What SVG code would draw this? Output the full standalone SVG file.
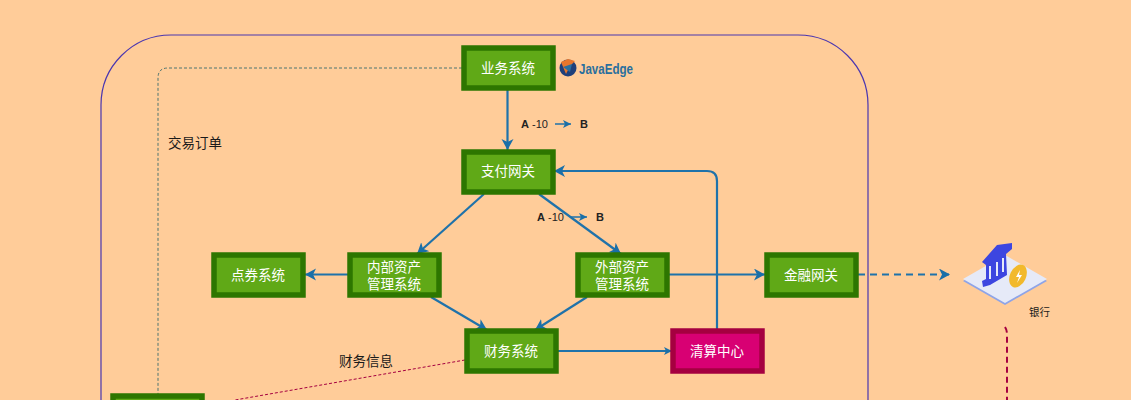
<svg xmlns="http://www.w3.org/2000/svg" width="1131" height="400" viewBox="0 0 1131 400">
<style>
text{font-family:"Liberation Sans","Noto Sans CJK SC",sans-serif}
.g{fill:#60a917;stroke:#2d7600;stroke-width:5.5}
.r{fill:#d80073;stroke:#a50040;stroke-width:5.5}
.t{fill:#fff;font-size:13.5px;text-anchor:middle}
.l{fill:#1a1a1a;font-size:13.5px}
.c{fill:none;stroke:#1f72aa;stroke-width:2.200}
.s{font-size:11px;fill:#222}
</style>
<defs>
<marker id="a" markerUnits="userSpaceOnUse" markerWidth="14" markerHeight="14" refX="11" refY="6" orient="auto"><path d="M0 0L11 6L0 12L3 6Z" fill="#1a6fa8"/></marker>
<marker id="b" markerUnits="userSpaceOnUse" markerWidth="10" markerHeight="10" refX="8" refY="4" orient="auto"><path d="M0 0L8 4L0 8L2 4Z" fill="#1a6fa8"/></marker>
</defs>
<rect width="1131" height="400" fill="#ffcc99"/>
<rect x="101" y="35" width="767" height="500" rx="70" fill="none" stroke="#4a36b0" stroke-width="1.200"/>
<g id="connectors">
<path d="M462 68H168Q158 68 158 78V394" fill="none" stroke="#4f7570" stroke-width="1" stroke-dasharray="3 2"/>
<path d="M465 360L235 400" fill="none" stroke="#a50040" stroke-width="1" stroke-dasharray="3 2"/>
<path class="c" d="M507.500 90V150" marker-end="url(#a)"/>
<path class="c" d="M717 330V181Q717 171 707 171H554" marker-end="url(#a)"/>
<path class="c" d="M484 194L417 254" marker-end="url(#a)"/>
<path class="c" d="M539 194L621 254" marker-end="url(#a)"/>
<path class="c" d="M348 274.500H305" marker-end="url(#a)"/>
<path class="c" d="M431 297L487 330" marker-end="url(#a)"/>
<path class="c" d="M587 297L535 330" marker-end="url(#a)"/>
<path class="c" d="M669 274.500H765" marker-end="url(#a)"/>
<path class="c" d="M558 351H672" marker-end="url(#b)"/>
<path d="M858 274.500H950" fill="none" stroke="#1f72aa" stroke-width="2.200" stroke-dasharray="7 5" marker-end="url(#a)"/>
<path d="M1005 327Q1007 330 1007 334V400" fill="none" stroke="#a50040" stroke-width="2" stroke-dasharray="6 4"/>
<path d="M555 124H571" stroke="#1f72aa" stroke-width="1.500" fill="none" marker-end="url(#b)"/>
<path d="M570 217H587" stroke="#1f72aa" stroke-width="1.500" fill="none" marker-end="url(#b)"/>
</g>
<g id="biz"><rect class="g" x="464" y="48" width="89" height="40"/><text class="t" x="508" y="73">业务系统</text></g>
<g id="logo">
<circle cx="568" cy="68" r="8.500" fill="#1f3f7a"/><path d="M561 62L568 59L575 61L570 66L566 74Z" fill="#e8762c"/><path d="M563 67L572 64L570 72Z" fill="#2a6f9e"/>
<text x="579" y="74" font-size="14" font-weight="bold" fill="#2a6f9e" textLength="54" lengthAdjust="spacingAndGlyphs">JavaEdge</text>
</g>
<g id="gateway"><rect class="g" x="464" y="152" width="89" height="40"/><text class="t" x="508" y="176">支付网关</text></g>
<g id="points"><rect class="g" x="214" y="255" width="89" height="40"/><text class="t" x="258" y="280">点券系统</text></g>
<g id="internal"><rect class="g" x="350" y="255" width="89" height="40"/><text class="t" x="394" y="272">内部资产</text><text class="t" x="394" y="289">管理系统</text></g>
<g id="external"><rect class="g" x="578" y="255" width="89" height="40"/><text class="t" x="622" y="272">外部资产</text><text class="t" x="622" y="289">管理系统</text></g>
<g id="fingw"><rect class="g" x="767" y="255" width="89" height="40"/><text class="t" x="811" y="280">金融网关</text></g>
<g id="finance"><rect class="g" x="467" y="331" width="89" height="40"/><text class="t" x="511" y="356">财务系统</text></g>
<g id="clearing"><rect class="r" x="673" y="331" width="89" height="40"/><text class="t" x="717" y="356">清算中心</text></g>
<g id="bottom"><rect class="g" x="113" y="396" width="89" height="40"/></g>
<g id="bank">
<path d="M963 281L1005 257L1047 281L1005 305Z" fill="#8ea4e8"/>
<path d="M963 279L1005 255L1047 279L1005 303Z" fill="#e6eaf8"/>
<path d="M982 262L997 245L1012 243V249L1006 254L1007 275L990 285L983 287L982 281L986 279V265Z" fill="#3d46e0"/>
<path d="M990 266V279M997 262V276M1003 258V272" stroke="#e6eaf8" stroke-width="2" fill="none"/>
<ellipse cx="1018" cy="276" rx="8" ry="12" transform="rotate(25 1018 276)" fill="#f2b92c"/>
<path d="M1020 270L1016 277H1019L1017 283L1022 275H1019Z" fill="#fff"/>
</g>
<text class="l" x="168" y="148">交易订单</text>
<text class="l" x="339" y="366">财务信息</text>
<text x="1029" y="316" font-size="10.500" fill="#1a1a1a">银行</text>
<text class="s" x="521" y="128"><tspan font-weight="bold">A</tspan> -10</text>
<text class="s" x="580" y="128" font-weight="bold">B</text>
<text class="s" x="537" y="221"><tspan font-weight="bold">A</tspan> -10</text>
<text class="s" x="596" y="221" font-weight="bold">B</text>
</svg>
